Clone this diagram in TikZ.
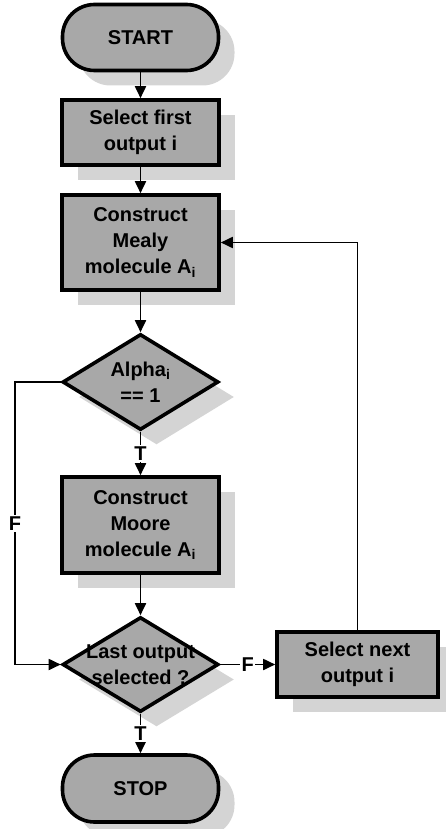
\documentclass[tikz,border=0pt]{standalone}
\usepackage{fontspec}
\setmainfont{Liberation Sans}
\usetikzlibrary{shapes.geometric,shadows,arrows.meta}

\definecolor{boxfill}{RGB}{168,168,168}
\definecolor{shadowfill}{RGB}{212,212,212}

\tikzset{
  base/.style={draw=black, line width=3.6pt, fill=boxfill,
    font=\fontsize{20}{26}\selectfont\bfseries, align=center, inner sep=0pt,
    drop shadow={shadow xshift=16pt, shadow yshift=-15pt, fill=shadowfill, opacity=1}},
  terminal/.style={base, rectangle, rounded corners=32pt,
    minimum width=156pt, minimum height=66pt},
  process/.style={base, rectangle, minimum width=157pt},
  decision/.style={base, diamond, minimum width=156pt, minimum height=96pt},
  dtext/.style={font=\fontsize{20}{26}\selectfont\bfseries, align=center, inner sep=0pt},
  conn/.style={line width=1.8pt, -{Triangle[length=12pt,width=11pt]}},
  flag/.style={fill=white, font=\fontsize{20}{26}\selectfont\bfseries, inner sep=1.5pt}
}

\begin{document}
\begin{tikzpicture}[x=1pt, y=-1pt]
  \useasboundingbox (0,0) rectangle (445,829);

  % main column
  \node[terminal] (start) at (140.5,37.5) {START};
  \node[process, minimum height=65pt] (sel1) at (140.5,132.5) {Select first\\output i};
  \node[process, minimum height=95pt] (mealy) at (140.5,242.5) {Construct\\Mealy\\molecule A\textsubscript{i}};
  \node[decision] (alpha) at (140.5,382) {};
  \node[dtext] at (alpha.center) {Alpha\textsubscript{i}\\== 1};
  \node[process, minimum height=96pt] (moore) at (140.5,525) {Construct\\Moore\\molecule A\textsubscript{i}};
  \node[decision, minimum height=95pt] (last) at (140.5,664.5) {};
  \node[dtext] at (last.center) {Last output\\selected ?};
  \node[terminal, minimum height=67pt] (stop) at (140.5,788.5) {STOP};

  % side box
  \node[process, minimum width=161pt, minimum height=65pt] (next) at (357.5,664.5) {Select next\\output i};

  % routing points of the false branch
  \coordinate (fa) at (15,382);
  \coordinate (fb) at (15,664.5);

  % connectors
  \draw[conn] (start.south) -- (sel1.north);
  \draw[conn] (sel1.south) -- (mealy.north);
  \draw[conn] (mealy.south) -- (alpha.north);
  \draw[conn] (alpha.south) -- node[flag] {T} (moore.north);
  \draw[conn] (moore.south) -- (last.north);
  \draw[conn] (last.south) -- node[flag] {T} (stop.north);
  \draw[conn] (alpha.west) -- (fa) -- node[flag] {F} (fb) -- (last.west);
  \draw[conn] (last.east) -- node[flag, pos=0.5] {F} (next.west);
  \draw[conn] (next.north) |- (mealy.east);
\end{tikzpicture}
\end{document}
